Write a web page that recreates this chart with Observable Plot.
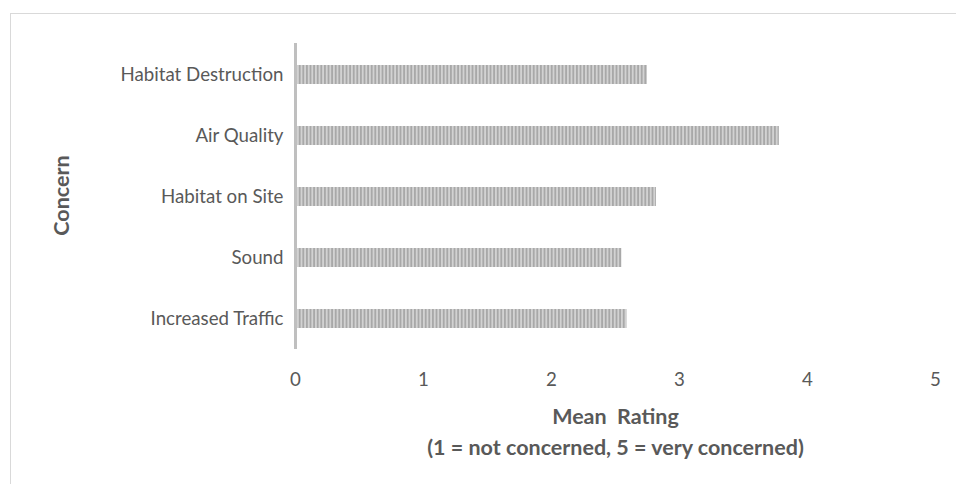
<!DOCTYPE html>
<html>
<head>
<meta charset="utf-8">
<script src="https://cdn.jsdelivr.net/npm/d3@7"></script>
<script src="https://cdn.jsdelivr.net/npm/@observablehq/plot@0.6"></script>
<style>
  html, body { margin: 0; padding: 0; background: #fff; }
  #wrap { position: relative; width: 956px; height: 484px; overflow: hidden; }
  #border { position: absolute; left: 10px; top: 13px; width: 980px; height: 500px; border: 1px solid #d9d9d9; pointer-events: none; }
</style>
</head>
<body>
<div id="wrap"><div id="border"></div></div>
<script>
const categories = ["Habitat Destruction", "Air Quality", "Habitat on Site", "Sound", "Increased Traffic"];
const values = [2.75, 3.78, 2.82, 2.55, 2.59];
const xTicks = [0, 1, 2, 3, 4, 5];
const yTitle = "Concern";
const xTitle1 = "Mean\u00a0 Rating";
const xTitle2 = "(1 = not concerned, 5 = very concerned)";

const data = categories.map((c, i) => ({category: c, value: values[i]}));

const chart = Plot.plot({
  width: 956,
  height: 484,
  marginLeft: 295,
  marginRight: 21,
  marginTop: 43,
  marginBottom: 135,
  style: {fontFamily: "Lato, sans-serif", color: "#595959", background: "transparent"},
  x: {domain: [0, 5]},
  y: {domain: categories, paddingInner: 0.69, paddingOuter: 0.345},
  marks: [
    Plot.barX(data, {x: "value", y: "category", fill: "url(#stripes)"}),
    Plot.ruleX([0], {stroke: "#bfbfbf", strokeWidth: 3}),
    Plot.axisX({ticks: xTicks, tickFormat: "d", tickSize: 0, tickPadding: 23, fontSize: 18.7, label: null}),
    Plot.axisY({tickSize: 0, tickPadding: 12, fontSize: 18.7, label: null}),
    Plot.text([yTitle], {frameAnchor: "left", rotate: -90, dx: -233, dy: -1, textAnchor: "middle", lineAnchor: "middle", fontWeight: "bold", fontSize: 21.5, fill: "#595959"}),
    Plot.text([xTitle1], {frameAnchor: "bottom", dy: 68, lineAnchor: "middle", fontWeight: "bold", fontSize: 21.5, fill: "#595959"}),
    Plot.text([xTitle2], {frameAnchor: "bottom", dy: 99, lineAnchor: "middle", fontWeight: "bold", fontSize: 21.5, fill: "#595959"})
  ]
});

const svg = d3.select(chart);
const defs = svg.insert("defs", ":first-child");
const pat = defs.append("pattern")
  .attr("id", "stripes")
  .attr("patternUnits", "userSpaceOnUse")
  .attr("width", 3.6)
  .attr("height", 10);
pat.append("rect").attr("width", 3.6).attr("height", 10).attr("fill", "#d2d2d2");
pat.append("rect").attr("width", 1.8).attr("height", 10).attr("fill", "#a8a8a8");

chart.style.position = "absolute";
chart.style.left = "0";
chart.style.top = "0";
document.getElementById("wrap").appendChild(chart);
</script>
</body>
</html>
